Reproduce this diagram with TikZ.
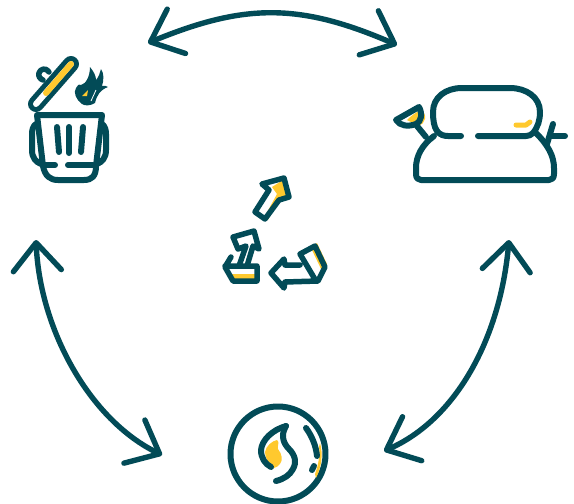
\documentclass[tikz,border=0pt]{standalone}
\usetikzlibrary{arrows.meta}
\definecolor{teal}{HTML}{024B57}
\definecolor{sun}{HTML}{FFC92E}
\tikzset{
  cycleline/.style={teal,line width=5.4pt,line cap=round,line join=round,
    {Straight Barb[length=28pt,width=48pt,line cap=round,round]}-{Straight Barb[length=28pt,width=48pt,line cap=round,round]}},
  icon/.style={teal,line width=6pt,line cap=round,line join=round},
  thin icon/.style={teal,line width=5.5pt,line cap=round,line join=round}
}
\begin{document}
\begin{tikzpicture}[x=1pt,y=-1pt]
\useasboundingbox (0,0) rectangle (574,504);

\coordinate (bin top) at (148,43);
\coordinate (sofa top) at (397,45);
\coordinate (bin low) at (36,240);
\coordinate (fire left) at (162,455);
\coordinate (sofa low) at (509,240);
\coordinate (fire right) at (384,451);

% arrows between the three icons
\draw[cycleline] (bin top) .. controls (245,3) and (300,3) .. (sofa top);
\draw[cycleline] (bin low) .. controls (40,330) and (90,420) .. (fire left);
\draw[cycleline] (sofa low) .. controls (500,340) and (455,420) .. (fire right);

% bin
\draw[teal,line width=16pt,line cap=round] (71,64) -- (36,104);
\draw[white,line width=6pt,line cap=round] (71,64) -- (36,104);
\draw[sun,line width=6pt,line cap=round] (71,64) -- (46,93);
\draw[icon] (43,166) -- (37,115) -- (102,115) -- (96,166);
\draw[icon] (43,166) .. controls (45,176) and (50,180) .. (58,180) -- (84,180) .. controls (92,180) and (96,176) .. (96,166);
\draw[icon] (45,165) -- (55,165);
\draw[icon] (68,165) -- (93,165);
\draw[icon] (57,127) -- (59,152);
\draw[icon] (69,127) -- (69,153);
\draw[icon] (83,127) -- (81,152);
\draw[icon] (36,124) .. controls (33,126) and (32,130) .. (32,134) -- (32,150) .. controls (32,158) and (36,162) .. (41,164);
\draw[icon] (102,124) .. controls (105,126) and (106,130) .. (106,134) -- (106,150) .. controls (106,158) and (102,162) .. (97,164);
\draw[thin icon] (49,72) .. controls (46,67) and (40,69) .. (39,73) .. controls (38,76) and (40,79) .. (43,80);
\fill[teal] (90,67) .. controls (94,72) and (96,76) .. (96,80) .. controls (99,77) and (100,72) .. (101,69) .. controls (104,73) and (104,80) .. (102,86)
  .. controls (104,85) and (106,86) .. (108,87) .. controls (100,90) and (97,95) .. (95,103) .. controls (90,106) and (85,106) .. (82,104)
  .. controls (76,100) and (73,92) .. (76,88) .. controls (78,85) and (80,83) .. (81,85) .. controls (86,84) and (90,76) .. (90,67) -- cycle;
\fill[sun] (82,96) -- (88,90) -- (87,96) -- cycle;
\draw[white,line width=.8pt] (96,90) -- (91,101);

% sofa
\fill[sun] (407,120) .. controls (411,116) and (415,113) .. (419,111) .. controls (424,111) and (426,115) .. (425,119) .. controls (424,122) and (422,125) .. (419,126) -- cycle;
\draw[icon] (396,120) -- (419,107) .. controls (423,114) and (421,122) .. (416,124) .. controls (408,127) and (400,126) .. (396,120) -- cycle;
\draw[icon] (417,126) -- (426,137);
\draw[icon] (437,131) .. controls (434,127) and (433,120) .. (433,112) .. controls (433,97) and (446,88) .. (462,88) -- (510,88)
  .. controls (526,88) and (540,97) .. (540,112) .. controls (540,120) and (538,127) .. (533,133) .. controls (531,135) and (529,136) .. (526,136) -- (478,136);
\draw[icon] (437,131) .. controls (440,135) and (444,136) .. (448,136) -- (461,136);
\draw[icon] (434,136) .. controls (422,145) and (416,156) .. (416,168) -- (416,174) .. controls (416,178) and (418,180) .. (421,180) -- (549,180)
  .. controls (552,180) and (554,178) .. (554,174) -- (554,168) .. controls (554,156) and (548,145) .. (536,133);
\draw[icon] (553,124) -- (547,144);
\draw[icon] (551,136) -- (565,136);
\draw[sun,line width=5pt,line cap=round,line join=round] (516,125) -- (526,125) -- (530,122);

% recycling sign, upper arrow
\fill[sun] (265,216) -- (277,194) -- (272,187) -- (283,180) -- (287,196) -- (278,198) -- (268,220) -- cycle;
\draw[thin icon] (255,212) -- (265,219) -- (279,200) -- (289,197) -- (284,178) -- (262,184) -- (269,190) -- cycle;
% recycling sign, left arrow and base
\fill[sun] (231,274) rectangle (256,280);
\draw[thin icon] (239,266) -- (246,246) -- (238,249) -- (233,237) -- (254,231) -- (259,249) -- (253,246) -- (247,266);
\draw[thin icon] (231,257) -- (225,267) -- (233,281) -- (257,281) -- (257,266) -- (225,266);
% recycling sign, right arrow
\fill[sun] (311,248) -- (317,243) -- (327,264) -- (323,273) -- cycle;
\draw[thin icon] (300,265) -- (285,265) -- (284,259) -- (271,273) -- (284,288) -- (285,282) -- (318,281) -- (325,267) -- (315,246) -- (300,254) -- (316,281);

% fire in the circle
\draw[icon] (278,454) circle (47.5);
\fill[sun] (320,443) .. controls (323,453) and (322,466) .. (316,478) -- (315,474) .. controls (319,464) and (320,452) .. (319,447) -- cycle;
\fill[sun] (265,452) .. controls (266,446) and (272,441) .. (277,440) .. controls (280,442) and (277,446) .. (278,449) .. controls (282,454) and (283,460) .. (280,464) .. controls (277,468) and (272,469) .. (270,467) .. controls (268,462) and (265,456) .. (265,452) -- cycle;
\draw[icon] (286,426) .. controls (272,430) and (262,440) .. (261,450) .. controls (261,458) and (265,464) .. (271,467);
\draw[icon] (286,426) .. controls (280,436) and (284,444) .. (289,449) .. controls (295,455) and (297,462) .. (293,469) .. controls (290,475) and (284,479) .. (276,481);
\draw[icon] (306,428) .. controls (312,436) and (316,446) .. (317,456);
\draw[icon] (312,470) -- (314,466);
\end{tikzpicture}
\end{document}
